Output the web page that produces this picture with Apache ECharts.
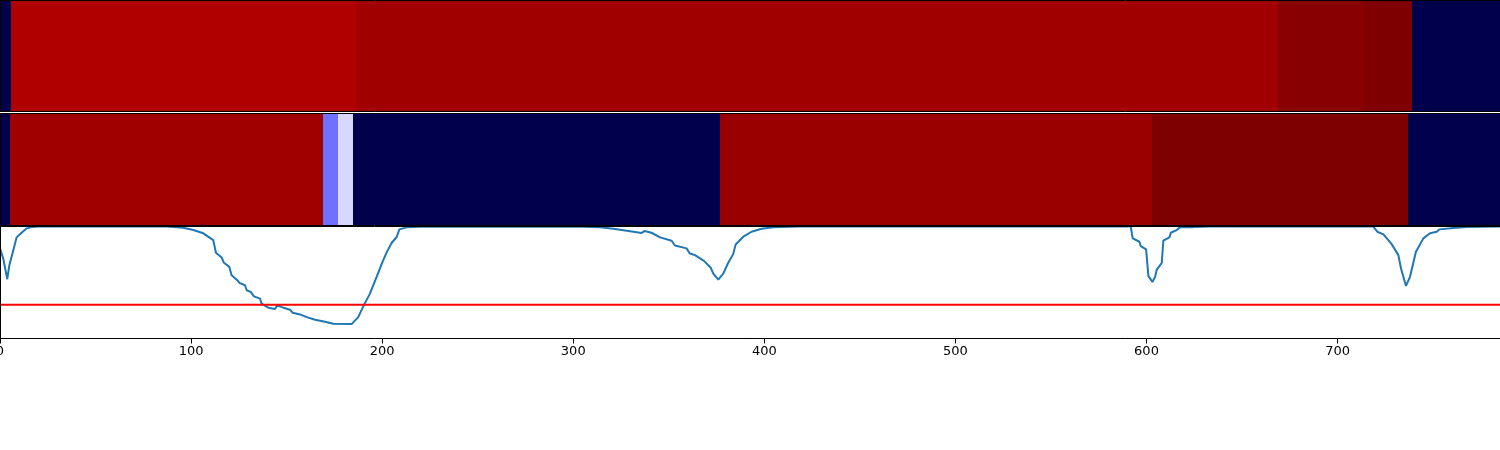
<!DOCTYPE html>
<html><head><meta charset="utf-8">
<style>html,body{margin:0;padding:0;background:#fff}#c{width:1500px;height:450px}</style>
<script src="https://cdn.jsdelivr.net/npm/echarts@6/dist/echarts.min.js"></script>
</head><body><div id="c"></div>
<script>
const xMax = 785;
const tickValues = [0,100,200,300,400,500,600,700];
const threshold = 0.3;
const topEdges = [0,6,186.2,669,714,739,785];
const topValues = [0,0.905,0.936,0.98,1,0];
const midEdges = [0,5,169,177,184.7,377,603,737,785];
const midValues = [0,0.936,0.36,0.462,0,0.948,1,0];
const lineX = [0,1.7,3.8,4.9,7,8.7,11.3,14,16.6,21,87.2,95.9,101.2,106.4,111.6,113,116,117.2,120,121.2,124.2,125.3,128.2,129.1,131.2,132.9,136.1,136.9,140.4,143.9,145.1,148.3,151.8,153.2,157,160.5,164.9,170.1,174.4,184,187.5,190.1,193.6,197.1,200.3,202.4,205,207.6,209,212.8,219.8,305,314,321,328,335.8,337.2,341,345.4,351.5,353.2,359.3,361,363.7,368.4,371.9,373.3,375.9,378.5,381.1,383.7,385,389,393.3,398.5,404.7,418.6,590,591.7,592.8,596.3,597,599.8,601,603.1,604.5,605.4,608,608.8,612,612.7,615.8,617.6,624.5,633.3,718.7,720.8,724,728.3,731.8,733.2,735.8,737.9,741,744.9,748.4,751.9,753.3,760.6,767.6,785];
const lineY = [0.801,0.711,0.527,0.652,0.786,0.899,0.94,0.979,0.99,0.995,0.995,0.985,0.964,0.935,0.875,0.762,0.72,0.673,0.637,0.563,0.518,0.494,0.473,0.429,0.414,0.375,0.354,0.31,0.274,0.262,0.292,0.274,0.256,0.229,0.214,0.19,0.167,0.149,0.131,0.128,0.19,0.286,0.399,0.548,0.685,0.768,0.851,0.902,0.97,0.988,0.994,0.994,0.988,0.976,0.958,0.938,0.955,0.94,0.899,0.869,0.827,0.801,0.756,0.741,0.69,0.631,0.577,0.524,0.577,0.673,0.75,0.836,0.905,0.949,0.976,0.988,0.995,0.995,1.0,0.89,0.86,0.821,0.792,0.554,0.503,0.548,0.613,0.673,0.869,0.899,0.94,0.964,0.99,0.99,0.995,0.995,0.949,0.926,0.839,0.741,0.622,0.467,0.548,0.771,0.89,0.935,0.949,0.97,0.982,0.99,0.995];

function seismic(v){
  const stops=[[0,0,0,76],[0.25,0,0,255],[0.5,255,255,255],[0.75,255,0,0],[1,127,0,0]];
  let i=0; while(i<stops.length-2 && v>stops[i+1][0]) i++;
  const a=stops[i],b=stops[i+1],t=(v-a[0])/(b[0]-a[0]);
  const c=k=>Math.round(a[k]+(b[k]-a[k])*t);
  return `rgb(${c(1)},${c(2)},${c(3)})`;
}
function bands(edges,values){return values.map((v,i)=>[edges[i],edges[i+1],v]);}
function renderBand(params,api){
  const p0=api.coord([api.value(0),1]), p1=api.coord([api.value(1),0]);
  return {type:'rect',shape:{x:Math.round(p0[0]),y:p0[1],width:Math.round(p1[0])-Math.round(p0[0]),height:p1[1]-p0[1]},
    style:{fill:seismic(api.value(2))}};
}
const gridBase={left:0,right:0,containLabel:false,outerBoundsMode:'none'};
const grids=[{...gridBase,top:0.5,height:111},{...gridBase,top:113.5,height:112},{...gridBase,top:226,height:112.5}];
const line={show:true,onZero:false,lineStyle:{color:'#000',width:1}};
const xAxis=[],yAxis=[];
grids.forEach((g,i)=>{
  const isLast=i===2;
  xAxis.push({type:'value',gridIndex:i,min:0,max:xMax,position:'bottom',z:5,axisLine:line,splitLine:{show:false},
    axisTick:isLast?{show:true,customValues:tickValues,length:5,lineStyle:{color:'#000',width:1}}:{show:false},
    axisLabel:isLast?{show:true,customValues:tickValues,color:'#000',fontFamily:'DejaVu Sans',fontSize:13,margin:7}:{show:false}});
  xAxis.push({type:'value',gridIndex:i,min:0,max:xMax,position:'top',z:5,axisLine:line,splitLine:{show:false},axisTick:{show:false},axisLabel:{show:false}});
  yAxis.push({type:'value',gridIndex:i,min:0,max:1,position:'left',z:5,axisLine:line,splitLine:{show:false},axisTick:{show:false},axisLabel:{show:false}});
  yAxis.push({type:'value',gridIndex:i,min:0,max:1,position:'right',z:5,axisLine:line,splitLine:{show:false},axisTick:{show:false},axisLabel:{show:false}});
});
const chart=echarts.init(document.getElementById('c'),null,{renderer:'canvas'});
chart.setOption({
  animation:false,backgroundColor:'#fff',grid:grids,xAxis,yAxis,
  series:[
    {type:'custom',xAxisIndex:0,yAxisIndex:0,renderItem:renderBand,data:bands(topEdges,topValues),encode:{x:[0,1]},clip:true},
    {type:'custom',xAxisIndex:2,yAxisIndex:2,renderItem:renderBand,data:bands(midEdges,midValues),encode:{x:[0,1]},clip:true},
    {type:'line',xAxisIndex:4,yAxisIndex:4,showSymbol:false,symbol:'none',data:lineX.map((x,i)=>[x,lineY[i]]),lineStyle:{color:'#1f77b4',width:2},clip:true},
    {type:'line',xAxisIndex:4,yAxisIndex:4,showSymbol:false,symbol:'none',data:[[0,threshold],[xMax,threshold]],lineStyle:{color:'#ff0000',width:2},clip:true}
  ]
});
</script></body></html>
